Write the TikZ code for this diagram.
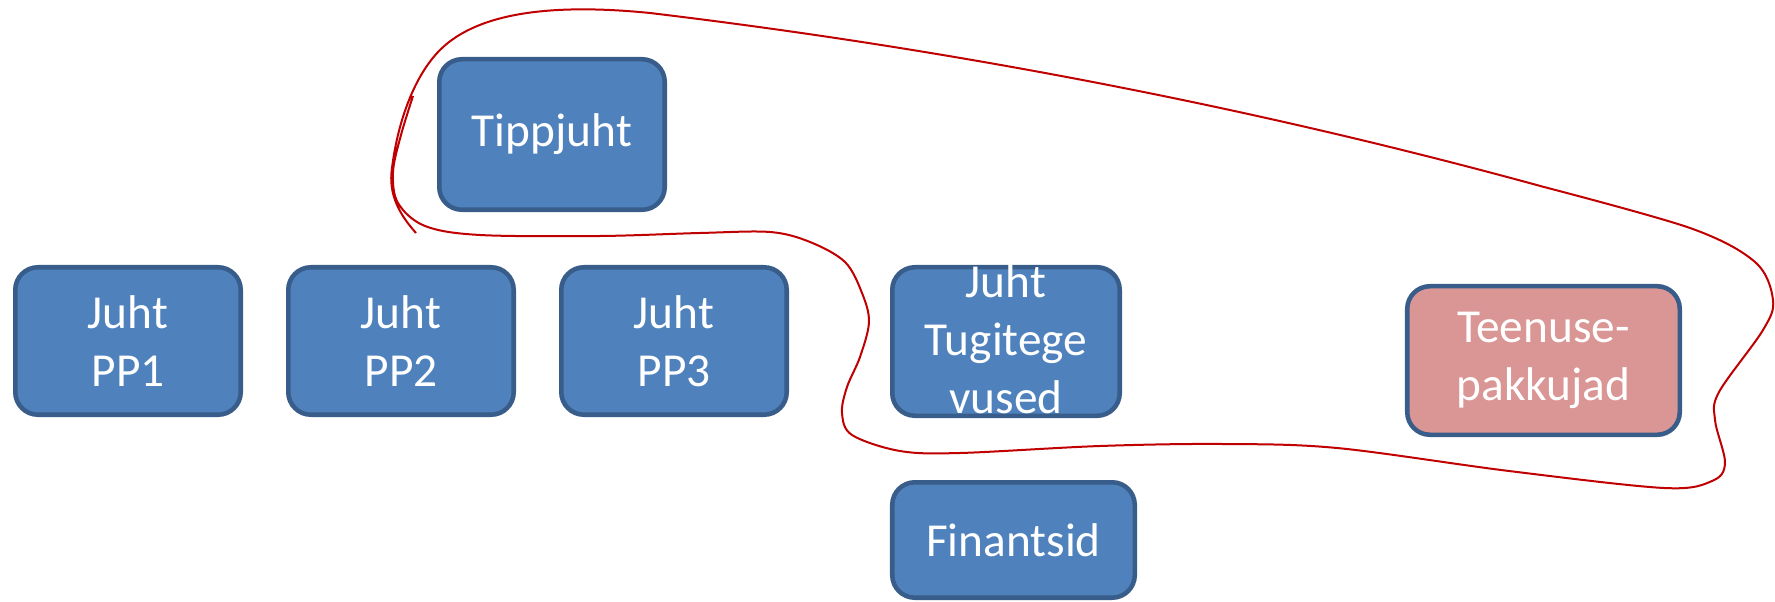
\documentclass[tikz,border=0pt]{standalone}
\usepackage{fontspec}
\setmainfont{Carlito}
\definecolor{boxblue}{HTML}{4F81BD}
\definecolor{boxedge}{HTML}{385D8A}
\definecolor{boxpink}{HTML}{D99694}
\definecolor{lassored}{HTML}{C00000}
\begin{document}
\begin{tikzpicture}[x=0.75pt,y=-0.75pt,
  orgbox/.style={draw=boxedge, line width=3.4pt, fill=boxblue, rounded corners=17pt,
    text=white, align=center, font=\fontsize{35.5}{43.5}\selectfont, inner sep=0pt,
    minimum width=169.1pt, minimum height=110.6pt},
  boxtext/.style={text=white, align=center, font=\fontsize{35.5}{43.5}\selectfont, inner sep=0pt},
  lassoline/.style={draw=lassored, line width=1.5pt, line join=round}
]
\useasboundingbox (0,0) rectangle (1775,602);

\node[orgbox, minimum height=112.9pt] (tipp) at (552,134.5) {Tippjuht};
\node[orgbox] (pp1) at (128,341) {Juht\\PP1};
\node[orgbox] (pp2) at (401,341) {Juht\\PP2};
\node[orgbox] (pp3) at (674,341) {Juht\\PP3};
\node[orgbox, minimum width=170.6pt, minimum height=111.4pt] (tugi) at (1006,341.5) {};
\node[boxtext] (tugitext) at ([yshift=1.5pt]tugi.center) {Juht\\Tugitege\\vused};
\node[orgbox, fill=boxpink, minimum width=204.4pt, minimum height=111.4pt] (teen) at (1543.5,360.5) {Teenuse-\\pakkujad};
\node[orgbox, minimum width=181.9pt, minimum height=86.6pt] (fin) at (1013.5,540) {Finantsid};

\draw[lassoline] plot[smooth, tension=0.55] coordinates {
  (413,96) (401,135) (393,172) (398,203) (425,226) (480,235) (600,236) (700,233) (770,232)
  (810,242) (845,262) (862,293) (869,322) (860,357) (847,387) (842,413) (852,435)
  (900,451) (960,453) (1100,446) (1222,444) (1337,448) (1509,471) (1664,488)
  (1712,481) (1725,463) (1715,420) (1719,392) (1763,330) (1773,300) (1755,262)
  (1690,228) (1544,187)}
  .. controls (1300,120) and (1000,55) .. (650,13)
  .. controls (560,4) and (480,10) .. (440,50)
  .. controls (415,75) and (398,120) .. (392,168)
  .. controls (388,195) and (400,215) .. (416,233);
\end{tikzpicture}
\end{document}
